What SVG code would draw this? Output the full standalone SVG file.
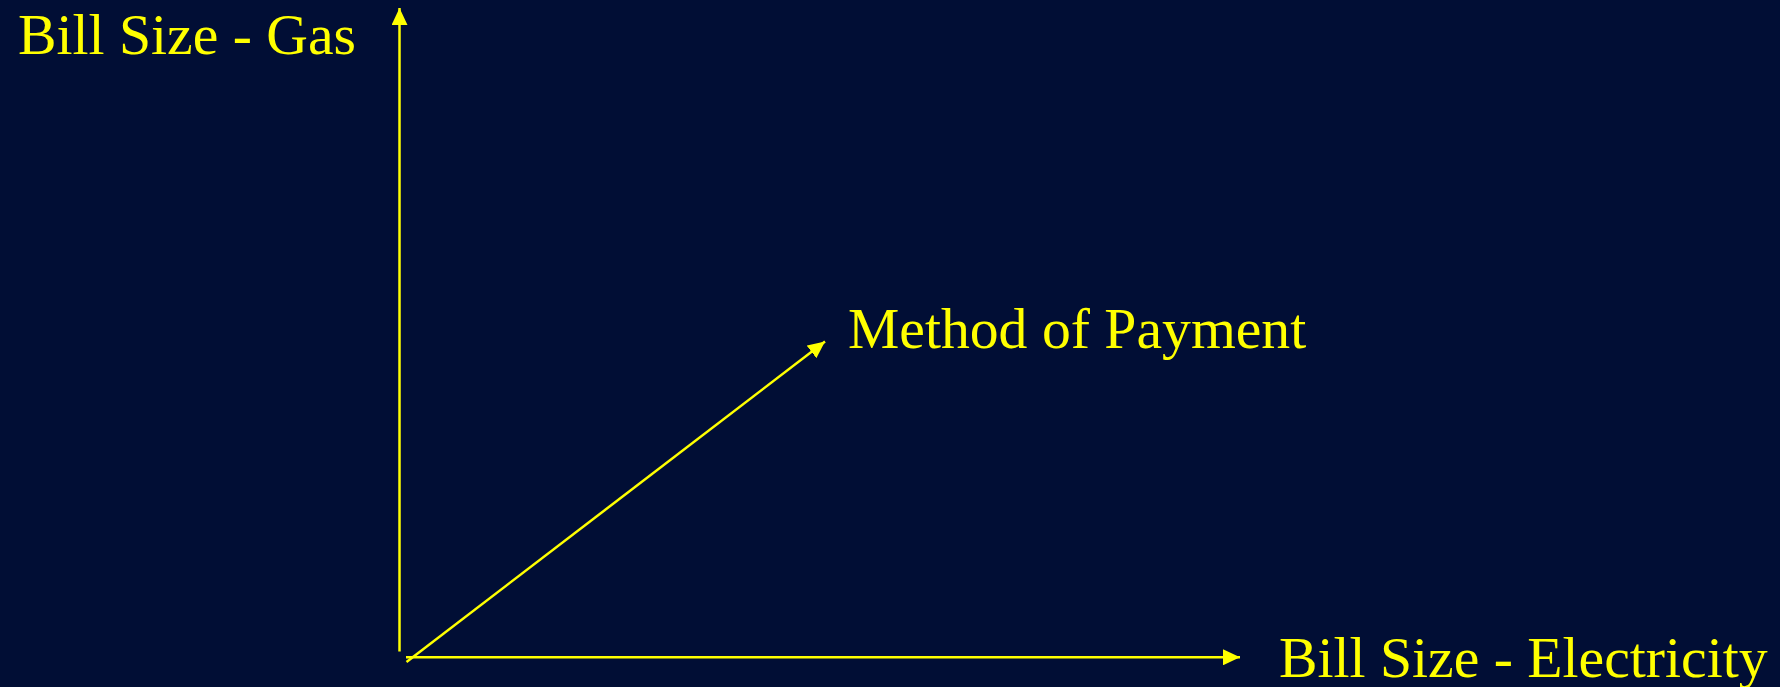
<svg xmlns="http://www.w3.org/2000/svg" width="1780" height="687" viewBox="0 0 1780 687">
  <style>
    .lbl { font-family: "Liberation Serif", "Times New Roman", serif; font-size: 57.7px; fill: #FFFF00; }
    .ax { stroke: #FFFF00; stroke-width: 2.5; fill: none; }
  </style>
  <defs>
    <marker id="arr" markerUnits="userSpaceOnUse" markerWidth="18" markerHeight="16" refX="17" refY="8" orient="auto">
      <path d="M0,0 L17,8 L0,16 Z" fill="#FFFF00"/>
    </marker>
  </defs>
  <rect x="0" y="0" width="1780" height="687" fill="#010E35"/>
  <g id="connectors">
    <line class="ax" x1="399.5" y1="651.5" x2="399.5" y2="8" marker-end="url(#arr)"/>
    <line class="ax" x1="406" y1="657.3" x2="1240" y2="657.3" marker-end="url(#arr)"/>
    <line class="ax" x1="406.5" y1="662" x2="825" y2="341.5" marker-end="url(#arr)"/>
  </g>
  <g id="gas">
    <text class="lbl" x="18" y="54">Bill Size - Gas</text>
  </g>
  <g id="electricity">
    <text class="lbl" x="1279" y="677">Bill Size - Electricity</text>
  </g>
  <g id="payment">
    <text class="lbl" x="848" y="347.5">Method of Payment</text>
  </g>
</svg>
